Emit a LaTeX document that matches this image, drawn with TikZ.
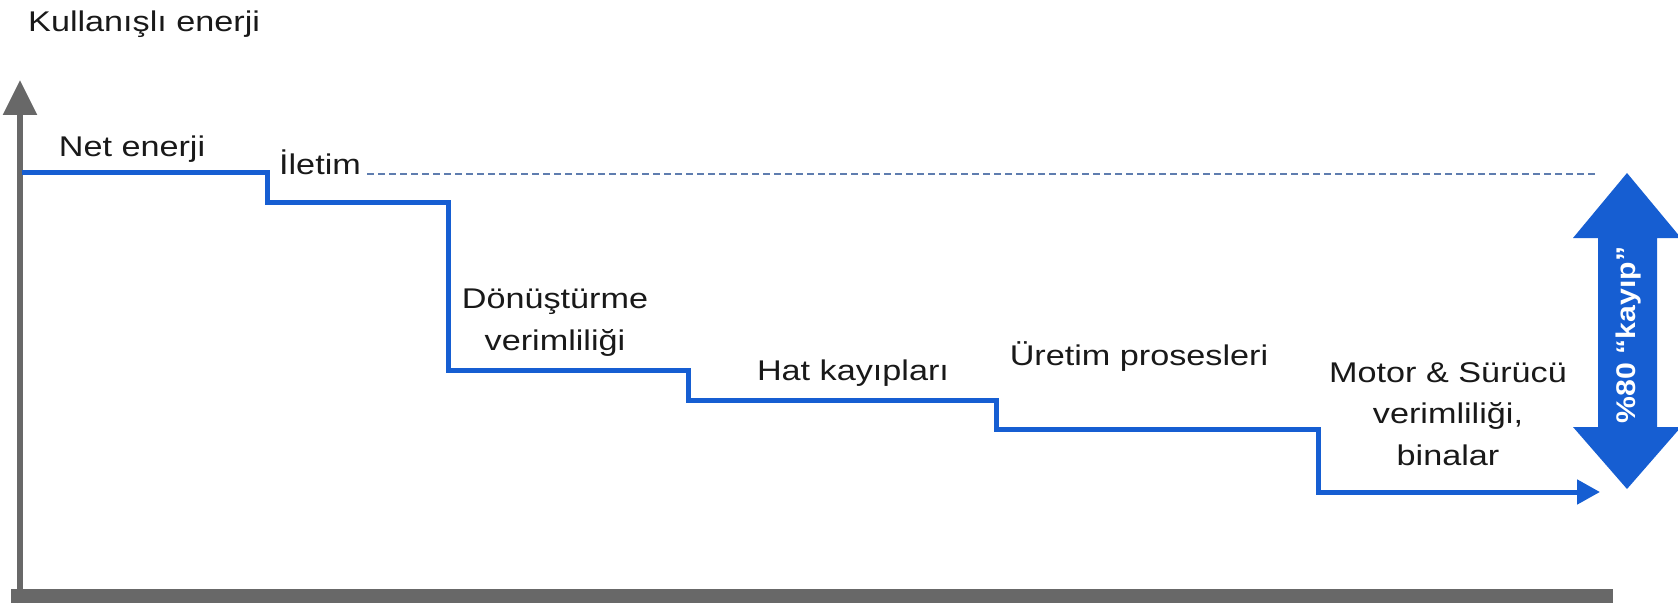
\documentclass[tikz,border=0pt]{standalone}
\usepackage{fontspec}
\setmainfont{Liberation Sans}[FakeStretch=1.2]
\newfontfamily\kayipfont{Liberation Sans}[FakeStretch=1.12]
\usetikzlibrary{arrows.meta}
\definecolor{axisgray}{RGB}{104,104,104}
\definecolor{stepblue}{RGB}{22,94,210}
\definecolor{dashblue}{RGB}{95,125,175}
\definecolor{txt}{RGB}{25,25,25}
\tikzset{
  lbl/.style={text=txt, inner sep=0pt, anchor=base, align=center,
    font=\fontsize{28.5}{41.5}\selectfont},
  axisline/.style={draw=axisgray},
  stairline/.style={draw=stepblue, line width=5pt, line join=miter},
  refline/.style={draw=dashblue, line width=1.5pt, dash pattern=on 7pt off 4pt},
}
\begin{document}
\begin{tikzpicture}[x=1pt,y=-1pt]
\useasboundingbox (0,0) rectangle (1678,604);
\fill[white] (0,0) rectangle (1678,604);

% axes
\coordinate (ybot) at (20,603);
\coordinate (ytop) at (20,80);
\coordinate (xl) at (11,596);
\coordinate (xr) at (1613,596);
\draw[axisline, line width=14pt] (xl) -- (xr);
\draw[axisline, line width=6pt, -{Triangle[width=33pt,length=35pt]}] (ybot) -- (ytop);

% reference dashed line
\coordinate (d0) at (367,174);
\coordinate (d1) at (1597,174);
\draw[refline] (d0) -- (d1);

% staircase
\coordinate (s0) at (22,173);
\coordinate (s1) at (267,173);
\coordinate (s2) at (267,203);
\coordinate (s3) at (448,203);
\coordinate (s4) at (448,370);
\coordinate (s5) at (688,370);
\coordinate (s6) at (688,400);
\coordinate (s7) at (996,400);
\coordinate (s8) at (996,429);
\coordinate (s9) at (1318,429);
\coordinate (s10) at (1318,492);
\coordinate (s11) at (1600,492);
\draw[stairline, -{Triangle[width=24pt,length=23pt]}]
  (s0) -- (s1) -- (s2) -- (s3) -- (s4) -- (s5) -- (s6) -- (s7) -- (s8) -- (s9) -- (s10) -- (s11);

% big double arrow
\fill[stepblue] (1627,173) -- (1681,238) -- (1657,238) -- (1657,427) -- (1681,427)
  -- (1627,489) -- (1573,427) -- (1598,427) -- (1598,238) -- (1573,238) -- cycle;
\node[rotate=90, text=white, inner sep=0pt,
  font=\kayipfont\bfseries\fontsize{27}{30}\selectfont] (kayip) at (1628,335) {\%80 “kayıp”};

% labels (multi-line nodes: base = baseline of last line)
\node[lbl, anchor=base west] (title) at (28,32) {Kullanışlı enerji};
\node[lbl] (net) at (132,157) {Net enerji};
\node[lbl] (iletim) at (320,175) {İletim};
\node[lbl] (donus) at (555,350) {Dönüştürme\\verimliliği};
\node[lbl] (hat) at (853,380) {Hat kayıpları};
\node[lbl] (uretim) at (1139,365) {Üretim prosesleri};
\node[lbl] (motor) at (1448,465) {Motor \& Sürücü\\verimliliği,\\binalar};
\end{tikzpicture}
\end{document}
